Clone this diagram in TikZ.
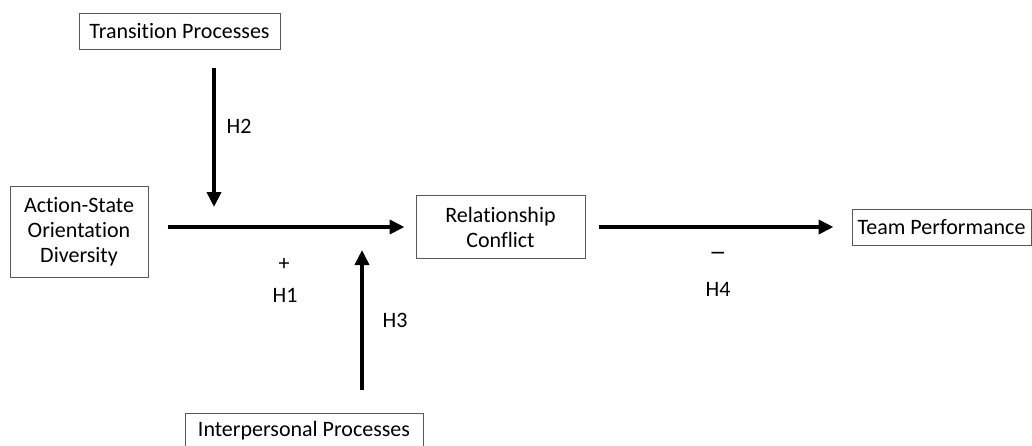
\documentclass[tikz,border=0pt]{standalone}
\usepackage{fontspec}
\setmainfont{Carlito}[Ligatures=NoCommon]
\usetikzlibrary{arrows.meta}
\begin{document}
\begin{tikzpicture}[x=1pt,y=-1pt,
  box/.style={draw=black!65,line width=1pt,fill=white,inner sep=0pt,align=center,font=\fontsize{22}{25}\selectfont},
  lbl/.style={inner sep=0pt,font=\fontsize{22}{25}\selectfont},
  arr/.style={line width=4pt,-{Triangle[length=15pt,width=14pt]}}]
\useasboundingbox (0,0) rectangle (1032,445);
\node[box,minimum width=201pt,minimum height=36pt] (tp) at (179.5,31) {Transition Processes};
\node[box,minimum width=138pt,minimum height=91pt] (asod) at (79,231.5) {Action-State\\Orientation\\Diversity};
\node[box,minimum width=169pt,minimum height=63pt] (rc) at (500.5,227) {Relationship\\Conflict};
\node[box,minimum width=179pt,minimum height=36pt] (team) at (941.5,227) {Team Performance};
\node[box,minimum width=238pt,minimum height=36pt] (ip) at (304,431) {Interpersonal Processes};
\coordinate (j2) at (214,227);
\coordinate (j3) at (362,227);
\draw[arr,shorten <=19pt,shorten >=11pt] (asod.east |- rc.west) -- (rc.west);
\draw[arr,shorten <=13pt,shorten >=18pt] (rc.east) -- (team.west);
\draw[arr,shorten <=18pt,shorten >=20pt] (tp.south -| j2) -- (j2);
\draw[arr,shorten <=23pt,shorten >=23pt] (ip.north -| j3) -- (j3);
\node[lbl] (plus) at (284,264) {+};
\node[lbl] (h1) at (285,295) {H1};
\node[lbl] (h2) at (239,126) {H2};
\node[lbl] (h3) at (395,320) {H3};
\node[lbl,anchor=base] (minus) at (718,260) {\scalebox{1.6}[1.2]{–}};
\node[lbl] (h4) at (718,289) {H4};
\end{tikzpicture}
\end{document}
